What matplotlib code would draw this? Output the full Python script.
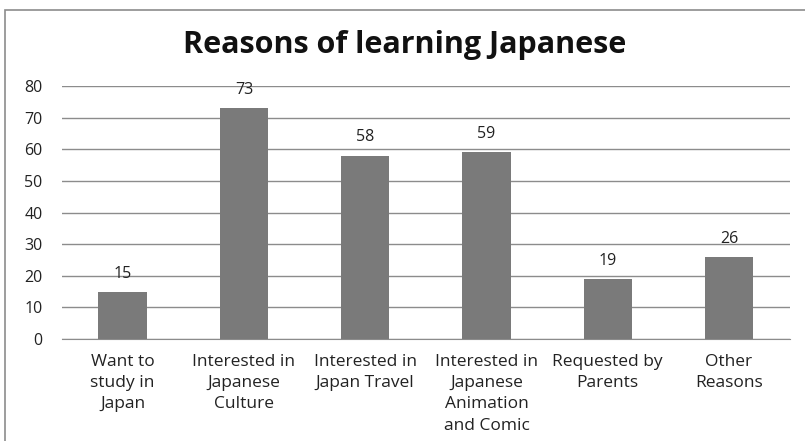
import matplotlib
matplotlib.use('Agg')
import matplotlib.pyplot as plt
from matplotlib.patches import Rectangle

categories = ['Want to\nstudy in\nJapan', 'Interested in\nJapanese\nCulture',
              'Interested in\nJapan Travel', 'Interested in\nJapanese\nAnimation\nand Comic',
              'Requested by\nParents', 'Other\nReasons']
counts = [15, 73, 58, 59, 19, 26]
yticks = [0, 10, 20, 30, 40, 50, 60, 70, 80]

plt.rcParams['font.family'] = ['Open Sans', 'DejaVu Sans']

fig = plt.figure(figsize=(8.05, 4.41), dpi=100)
ax = fig.add_axes([0.077, 0.231, 0.904, 0.574])

# outer chart border
fig.patches.append(Rectangle((5 / 805, -0.1), 1.1, 1 - 10 / 441 + 0.1,
                             transform=fig.transFigure, fill=False,
                             edgecolor='#8c8c8c', linewidth=1.2))

x = range(len(categories))
ax.bar(x, counts, width=0.4, color='#7a7a7a', zorder=3)
for xi, v in zip(x, counts):
    ax.text(xi, v + 3.2, str(v), ha='center', va='bottom', fontsize=11.5, color='#222222')

ax.set_xlim(-0.5, len(categories) - 0.5)
ax.set_ylim(0, 80)
ax.set_yticks(yticks)
ax.yaxis.grid(True, color='#8c8c8c', linewidth=1)
ax.set_axisbelow(True)
ax.tick_params(axis='both', length=0, labelsize=11.5, colors='#222222')
ax.tick_params(axis='y', pad=14)
ax.set_xticks(list(x))
ax.set_xticklabels(categories, linespacing=1.42, fontsize=12.5)
ax.tick_params(axis='x', pad=11)
for side in ['top', 'right', 'left']:
    ax.spines[side].set_visible(False)
ax.spines['bottom'].set_color('#8c8c8c')

fig.text(0.503, 0.898, 'Reasons of learning Japanese', ha='center', va='center',
         fontsize=22, fontweight='bold', color='#111111')

fig.savefig('out.png', dpi=100)
